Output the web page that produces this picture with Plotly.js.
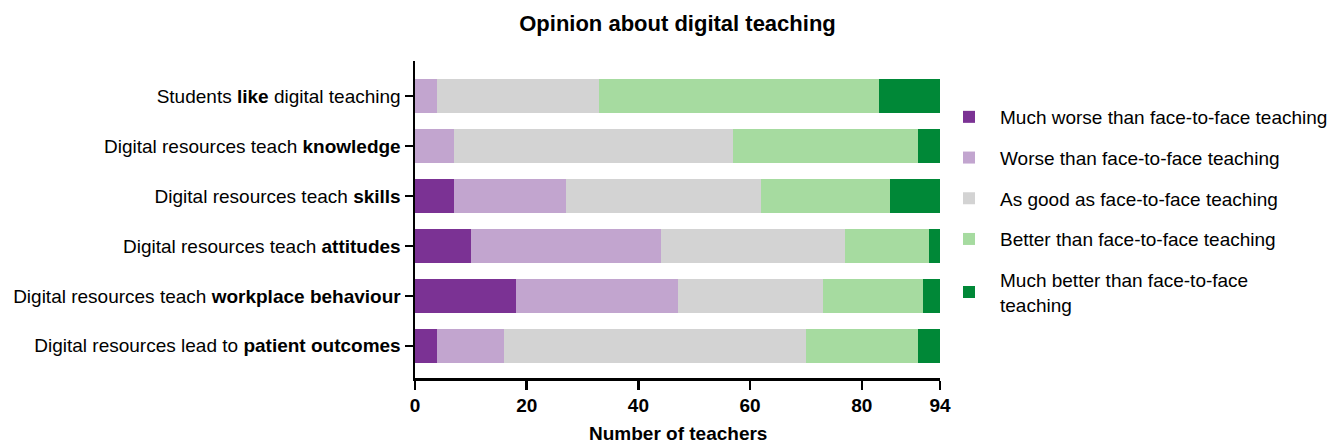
<!DOCTYPE html>
<html><head><meta charset="utf-8">
<script src="https://cdn.plot.ly/plotly-3.0.1.min.js"></script>
<style>html,body{margin:0;padding:0;background:#fff}#chart{width:1328px;height:444px}</style>
</head><body><div id="chart"></div>
<script>
const categories = [
  "Students like digital teaching",
  "Digital resources teach knowledge",
  "Digital resources teach skills",
  "Digital resources teach attitudes",
  "Digital resources teach workplace behaviour",
  "Digital resources lead to patient outcomes"
];
const tickLabels = [
  "Students <b>like</b> digital teaching",
  "Digital resources teach <b>knowledge</b>",
  "Digital resources teach <b>skills</b>",
  "Digital resources teach <b>attitudes</b>",
  "Digital resources teach <b>workplace behaviour</b>",
  "Digital resources lead to <b>patient outcomes</b>"
];
const seriesNames = [
  "Much worse than face-to-face teaching",
  "Worse than face-to-face teaching",
  "As good as face-to-face teaching",
  "Better than face-to-face teaching",
  "Much better than face-to-face<br>teaching"
];
const muchWorse  = [0, 0, 7, 10, 18, 4];
const worse      = [4, 7, 20, 34, 29, 12];
const asGood     = [29, 50, 35, 33, 26, 54];
const better     = [50, 33, 23, 15, 18, 20];
const muchBetter = [11, 4, 9, 2, 3, 4];
const xTickVals  = [0, 20, 40, 60, 80, 94];
const xAxisTitle = "Number of teachers";

const seriesValues = [muchWorse, worse, asGood, better, muchBetter];
const colors = ["#7B3294", "#C2A5CF", "#D3D3D3", "#A6DBA0", "#008837"];

const FONT = "Liberation Sans, Arial, sans-serif";

const traces = seriesValues.map((vals, i) => ({
  type: "bar",
  orientation: "h",
  y: categories,
  x: vals,
  name: seriesNames[i],
  legendgroup: "g" + i,
  marker: {color: colors[i], line: {width: 0}},
  width: 0.67,
  hoverinfo: "x+name"
}));

const layout = {
  width: 1328, height: 444,
  barmode: "stack",
  paper_bgcolor: "#fff", plot_bgcolor: "#fff",
  margin: {l: 415, r: 388, t: 61, b: 66, pad: 0, autoexpand: false},
  font: {family: FONT, color: "#000", size: 19},
  title: {
    text: "<b>Opinion about digital teaching</b>",
    font: {family: FONT, size: 22, color: "#000"},
    x: 0.5, xref: "paper", xanchor: "center",
    y: 1 - 23/444, yref: "container", yanchor: "middle"
  },
  xaxis: {
    range: [0, 94], tickvals: xTickVals, ticktext: xTickVals.map(String),
    showgrid: false, zeroline: false,
    showline: true, linecolor: "#000", linewidth: 2.5,
    ticks: "outside", ticklen: 9, tickwidth: 2.5, tickcolor: "#000",
    tickfont: {family: FONT, size: 19, weight: "bold", color: "#000"},
    automargin: false,
    fixedrange: true
  },
  yaxis: {
    type: "category",
    range: [5.645, -0.705],
    tickvals: categories, ticktext: tickLabels,
    showgrid: false, zeroline: false,
    showline: true, linecolor: "#000", linewidth: 2.5,
    ticks: "outside", ticklen: 8, tickwidth: 2.5, tickcolor: "#000",
    tickfont: {family: FONT, size: 19, color: "#000"},
    automargin: false,
    fixedrange: true
  },
  annotations: [{
    text: "<b>" + xAxisTitle + "</b>",
    xref: "paper", yref: "paper", x: 0.5, y: -0.176,
    xanchor: "center", yanchor: "middle", showarrow: false,
    font: {family: FONT, size: 19, color: "#000"}
  }],
  showlegend: true,
  legend: {
    xref: "container", yref: "container",
    x: 938/1328, xanchor: "left",
    y: 1 - 98/444, yanchor: "top",
    traceorder: "grouped",
    tracegroupgap: 13,
    itemwidth: 52,
    font: {family: FONT, size: 19, color: "#000"},
    bgcolor: "rgba(0,0,0,0)", borderwidth: 0
  }
};

Plotly.newPlot("chart", traces, layout, {displayModeBar: false, staticPlot: true});
</script>
</body></html>
